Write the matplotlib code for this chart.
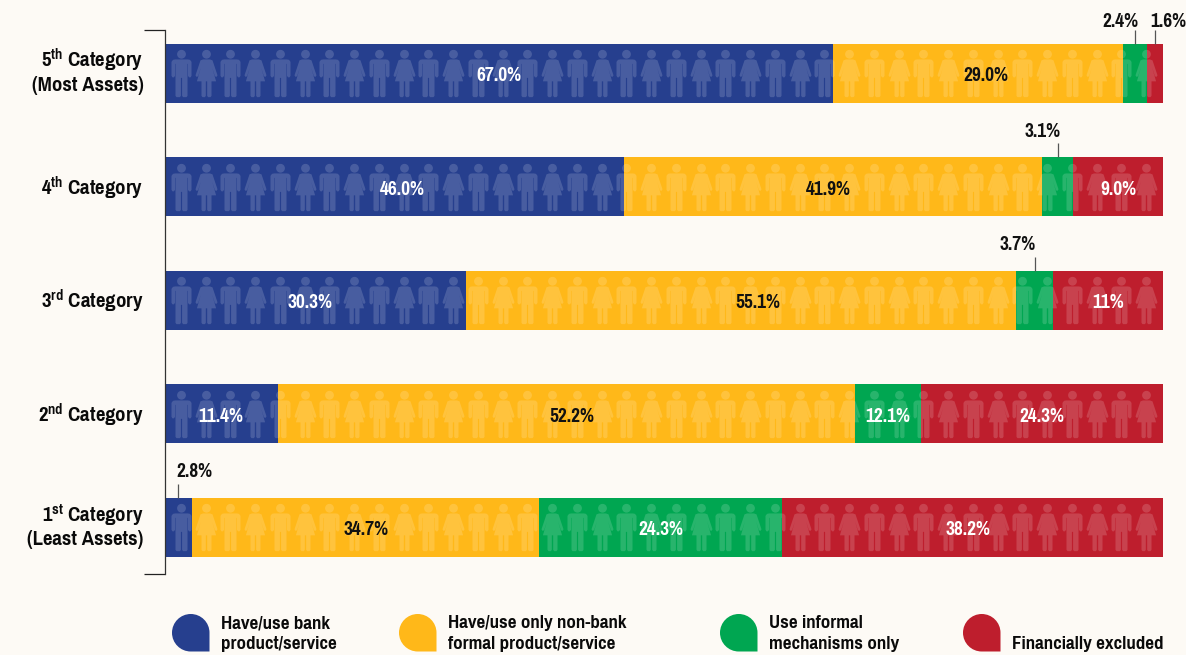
import numpy as np
import matplotlib
matplotlib.use("Agg")
import matplotlib.pyplot as plt
from matplotlib.path import Path
from matplotlib.patches import PathPatch
from matplotlib.transforms import ScaledTranslation
from matplotlib import font_manager as fm

# ---------- data ----------
categories = [r"$\mathbf{1^{st}}$ Category" "\n(Least Assets)",
              r"$\mathbf{2^{nd}}$ Category",
              r"$\mathbf{3^{rd}}$ Category",
              r"$\mathbf{4^{th}}$ Category",
              r"$\mathbf{5^{th}}$ Category" "\n(Most Assets)"]
# printed values
bank_labels     = ["2.8%", "11.4%", "30.3%", "46.0%", "67.0%"]
nonbank_labels  = ["34.7%", "52.2%", "55.1%", "41.9%", "29.0%"]
informal_labels = ["24.3%", "12.1%", "3.7%", "3.1%", "2.4%"]
excluded_labels = ["38.2%", "24.3%", "11%", "9.0%", "1.6%"]
# drawn bar lengths (the 2nd category is drawn 57.8 / 6.7 in the source)
bank     = [2.7, 11.3, 30.2, 46.0, 66.9]
nonbank  = [34.8, 57.8, 55.1, 41.9, 29.1]
informal = [24.3, 6.7, 3.7, 3.1, 2.4]
excluded = [38.2, 24.2, 11.0, 9.0, 1.6]
series_names = ["Have/use bank\nproduct/service",
                "Have/use only non-bank\nformal product/service",
                "Use informal\nmechanisms only",
                "\nFinancially excluded"]
people_per_row = 40

# ---------- style ----------
BG = "#FDFAF5"
colors = ["#263F8E", "#FFB819", "#00A651", "#BE1E2D"]
text_colors = ["white", "#111111", "white", "white"]
W, H = 1186, 655
bold_fonts = {f.name for f in fm.fontManager.ttflist if f.weight in (700, "bold")}
FONT = next((c for c in ["Pragati Narrow", "PT Sans Narrow", "IBM Plex Sans Condensed",
                         "Fira Sans Condensed", "Barlow Semi Condensed", "Liberation Sans"]
             if c in bold_fonts), "DejaVu Sans")
plt.rcParams["font.family"] = [FONT, "DejaVu Sans"]
plt.rcParams["mathtext.fontset"] = "custom"
plt.rcParams["mathtext.bf"] = f"{FONT}:bold"
plt.rcParams["mathtext.rm"] = f"{FONT}:bold"

fig = plt.figure(figsize=(W / 100, H / 100), dpi=100, facecolor=BG)
L, R, T, B = 165, 1163, 30, 574
ax = fig.add_axes([L / W, 1 - B / H, (R - L) / W, (B - T) / H], facecolor="none")
ROW = 113.5
TOPROW = 73.3
ymin, ymax = -(B - (TOPROW + 4 * ROW)) / ROW, 4 + (TOPROW - T) / ROW
ax.set_xlim(0, 100)
ax.set_ylim(ymin, ymax)
px_x = 100 / (R - L)   # data units per pixel

# ---------- bars ----------
y = np.arange(5)
series = [bank, nonbank, informal, excluded]
labels = [bank_labels, nonbank_labels, informal_labels, excluded_labels]
left = np.zeros(5)
lefts = []
for vals, c in zip(series, colors):
    ax.barh(y, vals, left=left, height=59 / ROW, color=c, linewidth=0, zorder=2)
    lefts.append(left.copy())
    left = left + np.array(vals)

# ---------- pictogram overlay ----------
IH = 47.3
def to_path(points):
    pts = [(x, IH / 2 - t) for x, t in points]
    return Path(pts + [pts[0]], closed=True)
head = Path.circle((0, IH / 2 - 4.4), 4.4)
man_half = [(-6.5, 9.6), (-8.5, 10), (-10, 12), (-10, 26), (-9, 27.5), (-7.6, 27.5), (-6.5, 26),
            (-6.5, 14), (-6, 14), (-6, 46), (-5, 47.3), (-1.6, 47.3), (-0.6, 46), (-0.6, 28)]
woman_half = [(-3.5, 9.6), (-6, 10.5), (-11, 25.5), (-10, 27), (-8.5, 26.5), (-5.4, 17),
              (-9.6, 31.5), (-5, 31.5), (-5, 46), (-4, 47.3), (-1.6, 47.3), (-0.7, 46), (-0.7, 31.5)]
def person(half):
    return Path.make_compound_path(head, to_path(half + [(-x, t) for x, t in reversed(half)]))
man, woman = person(man_half), person(woman_half)
size = (IH * 0.72) ** 2
pitch = (1146 - 181) / (people_per_row - 1) * px_x
first = (181 - L) * px_x
for row in y:
    xs = first + pitch * np.arange(people_per_row)
    ax.scatter(xs[::2], np.full(people_per_row // 2, row), marker=man, s=size,
               color="white", alpha=0.16, linewidths=0, zorder=3)
    ax.scatter(xs[1::2], np.full(people_per_row // 2, row), marker=woman, s=size,
               color="white", alpha=0.16, linewidths=0, zorder=3)

# ---------- value labels ----------
LS = 15.2
nudge = {(1, 0): -1, (3, 1): -5, (3, 0): 8, (4, 1): 8, (2, 0): -6, (2, 1): 17,
         (1, 1): 6, (0, 3): -4}
outside = {(4, 2): 1120, (4, 3): 1168, (3, 2): 1042.5, (2, 2): 1018, (0, 0): 194}
outside_rise = {4: 52.0, 3: 55.5, 2: 55.5, 0: 55.5}
for s, vals in enumerate(series):
    for r, v in enumerate(vals):
        txt = labels[s][r]
        cx = lefts[s][r] + v / 2
        if (r, s) in outside:
            ax.plot([cx, cx], [r + 29.5 / ROW, r + 43.5 / ROW], color="#555555",
                    lw=0.9, clip_on=False, zorder=2, solid_capstyle="butt")
            ax.text((outside[(r, s)] - L) * px_x, r + outside_rise[r] / ROW, txt, ha="center", va="center",
                    fontsize=LS, fontweight="bold", color="#111111", clip_on=False)
        else:
            ax.text(cx + nudge.get((r, s), 0) * px_x, r - 2.5 / ROW, txt, ha="center", va="center",
                    fontsize=LS, fontweight="bold", color=text_colors[s], zorder=4)

# ---------- axes ----------
for side in ["top", "right", "bottom"]:
    ax.spines[side].set_visible(False)
ax.spines["left"].set_color("#333333")
ax.spines["left"].set_linewidth(0.9)
ax.set_xticks([])
ax.set_yticks(y)
ax.set_yticklabels(categories, fontsize=16.3, fontweight="bold", color="#0A0A0A",
                   linespacing=1.12, ha="right", va="center")
ax.tick_params(axis="y", which="major", length=0, pad=15.5)
for lab in ax.get_yticklabels():
    shift = 2.0 if "\n" in lab.get_text() else -1.5
    lab.set_transform(lab.get_transform() + ScaledTranslation(0, shift / 100, fig.dpi_scale_trans))
ax.set_yticks([ymin, ymax], minor=True)
ax.tick_params(axis="y", which="minor", length=15, width=0.9, color="#222222")

# ---------- legend ----------
overlay = fig.add_axes([0, 0, 1, 1], facecolor="none")
overlay.set_xlim(0, W)
overlay.set_ylim(H, 0)
overlay.axis("off")
drop_left = [172, 399, 720, 963]
text_left = [221, 448, 769, 1012]
D = 37.5
k = 0.5523 * D / 2
def drop(x0, y0):
    r = D / 2
    cx, cy = x0 + r, y0 + r
    verts = [(x0 + D, y0 + D), (cx, y0 + D),
             (cx - k, y0 + D), (x0, cy + k), (x0, cy),
             (x0, cy - k), (cx - k, y0), (cx, y0),
             (cx + k, y0), (x0 + D, cy - k), (x0 + D, cy),
             (x0 + D, y0 + D)]
    codes = [Path.MOVETO, Path.LINETO, Path.CURVE4, Path.CURVE4, Path.CURVE4,
             Path.CURVE4, Path.CURVE4, Path.CURVE4, Path.CURVE4, Path.CURVE4, Path.CURVE4,
             Path.LINETO]
    return Path(verts, codes)
for x0, tx, c, name in zip(drop_left, text_left, colors, series_names):
    overlay.add_patch(PathPatch(drop(x0, 614), facecolor=c, edgecolor="none"))
    overlay.text(tx, 633.5, name, ha="left", va="center", fontsize=14.9, fontweight="bold",
                 color="#0A0A0A", linespacing=1.32)

fig.savefig("out.png", dpi=100, facecolor=BG)
